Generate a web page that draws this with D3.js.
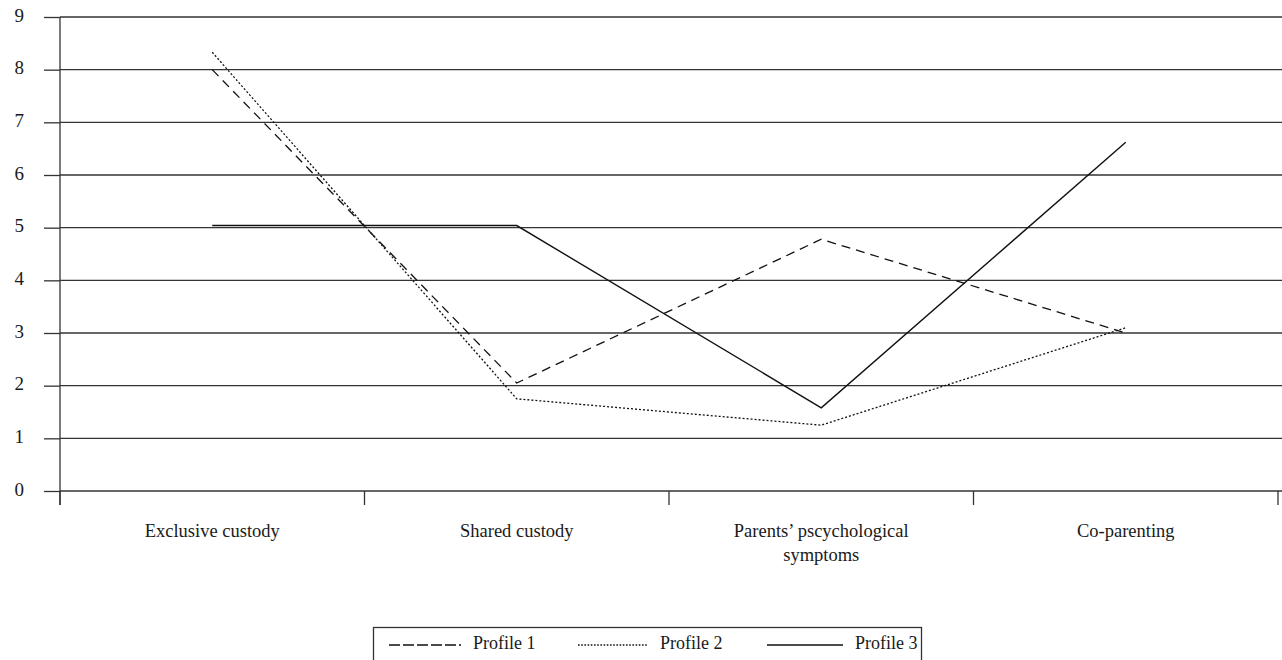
<!DOCTYPE html>
<html>
<head>
<meta charset="utf-8">
<script src="https://cdn.jsdelivr.net/npm/d3@7"></script>
<style>
  body { margin: 0; background: #fff; }
  text { font-family: "Liberation Serif", "Times New Roman", serif; fill: #1a1a1a; }
</style>
</head>
<body>
<div id="chart"></div>
<script>
// categories and profile means
const categories = ["Exclusive custody", "Shared custody", "Parents\u2019 pscychological symptoms", "Co-parenting"];
const profile1 = [8.0, 2.05, 4.78, 3.0];
const profile2 = [8.33, 1.75, 1.25, 3.1];
const profile3 = [5.04, 5.04, 1.58, 6.62];
const yTicks = [0, 1, 2, 3, 4, 5, 6, 7, 8, 9];
const seriesNames = ["Profile 1", "Profile 2", "Profile 3"];

const width = 1282, height = 660;
const margin = {top: 17, right: 4, bottom: 169, left: 60};

const svg = d3.select("#chart").append("svg")
  .attr("width", width)
  .attr("height", height);

const x = d3.scaleBand()
  .domain(categories)
  .range([margin.left, width - margin.right]);

const y = d3.scaleLinear()
  .domain([0, 9])
  .range([height - margin.bottom, margin.top]);

// y ticks + labels
const yAxis = svg.append("g")
  .attr("transform", `translate(${margin.left},0)`)
  .call(d3.axisLeft(y).tickValues(yTicks).tickSize(16).tickFormat(d3.format("d")));
yAxis.select(".domain").remove();
yAxis.selectAll(".tick line").attr("stroke", "#333").attr("stroke-width", 1.3);
yAxis.selectAll(".tick text")
  .style("font-size", "19px")
  .attr("text-anchor", "end")
  .attr("x", -36)
  .attr("dy", "0.22em");

// horizontal gridlines
svg.append("g").selectAll("line")
  .data(yTicks)
  .join("line")
  .attr("x1", margin.left).attr("x2", width)
  .attr("y1", d => y(d)).attr("y2", d => y(d))
  .attr("stroke", "#333").attr("stroke-width", 1.3);

// y axis line, extends below zero
svg.append("line")
  .attr("x1", margin.left).attr("x2", margin.left)
  .attr("y1", y(9)).attr("y2", y(0) + 14)
  .attr("stroke", "#333").attr("stroke-width", 1.3);

// x category boundaries
const bounds = categories.map(c => x(c)).concat([x.range()[1]]);
svg.append("g").selectAll("line")
  .data(bounds)
  .join("line")
  .attr("x1", d => d).attr("x2", d => d)
  .attr("y1", y(0)).attr("y2", y(0) + 14)
  .attr("stroke", "#333").attr("stroke-width", 1.3);

// x labels
const xl = svg.append("g").selectAll("text")
  .data(categories)
  .join("text")
  .attr("x", d => x(d) + x.bandwidth() / 2)
  .attr("y", y(0) + 46)
  .attr("text-anchor", "middle")
  .style("font-size", "18.5px");
xl.each(function(d) {
  const t = d3.select(this);
  const lines = d === categories[2] ? ["Parents\u2019 pscychological", "symptoms"] : [d];
  lines.forEach((s, i) => t.append("tspan").attr("x", x(d) + x.bandwidth() / 2).attr("dy", i ? 24 : 0).text(s));
});

const dashes = ["9,6", "2,2", null];
const series = [profile1, profile2, profile3];
const line = d3.line()
  .x((d, i) => x(categories[i]) + x.bandwidth() / 2)
  .y(d => y(d));

svg.append("g").selectAll("path")
  .data(series)
  .join("path")
  .attr("d", d => line(d))
  .attr("fill", "none")
  .attr("stroke", "#111")
  .attr("stroke-width", (d, i) => i === 2 ? 1.4 : 1.3)
  .attr("stroke-dasharray", (d, i) => dashes[i]);

// legend
const lg = svg.append("g").attr("transform", "translate(373,627)");
lg.append("rect")
  .attr("x", 0.5).attr("y", 0.5)
  .attr("width", 548).attr("height", 40)
  .attr("fill", "none").attr("stroke", "#333").attr("stroke-width", 1.3);
const legendX = [16, 205, 394];
const legendLen = [72, 70, 76];
const legendDash = ["11,3", "1.6,1.6", null];
seriesNames.forEach((n, i) => {
  lg.append("line")
    .attr("x1", legendX[i]).attr("x2", legendX[i] + legendLen[i])
    .attr("y1", 18).attr("y2", 18)
    .attr("stroke", "#111").attr("stroke-width", 1.3)
    .attr("stroke-dasharray", legendDash[i]);
  lg.append("text")
    .attr("x", legendX[i] + legendLen[i] + 12)
    .attr("y", 22)
    .style("font-size", "18px")
    .text(n);
});
</script>
</body>
</html>
